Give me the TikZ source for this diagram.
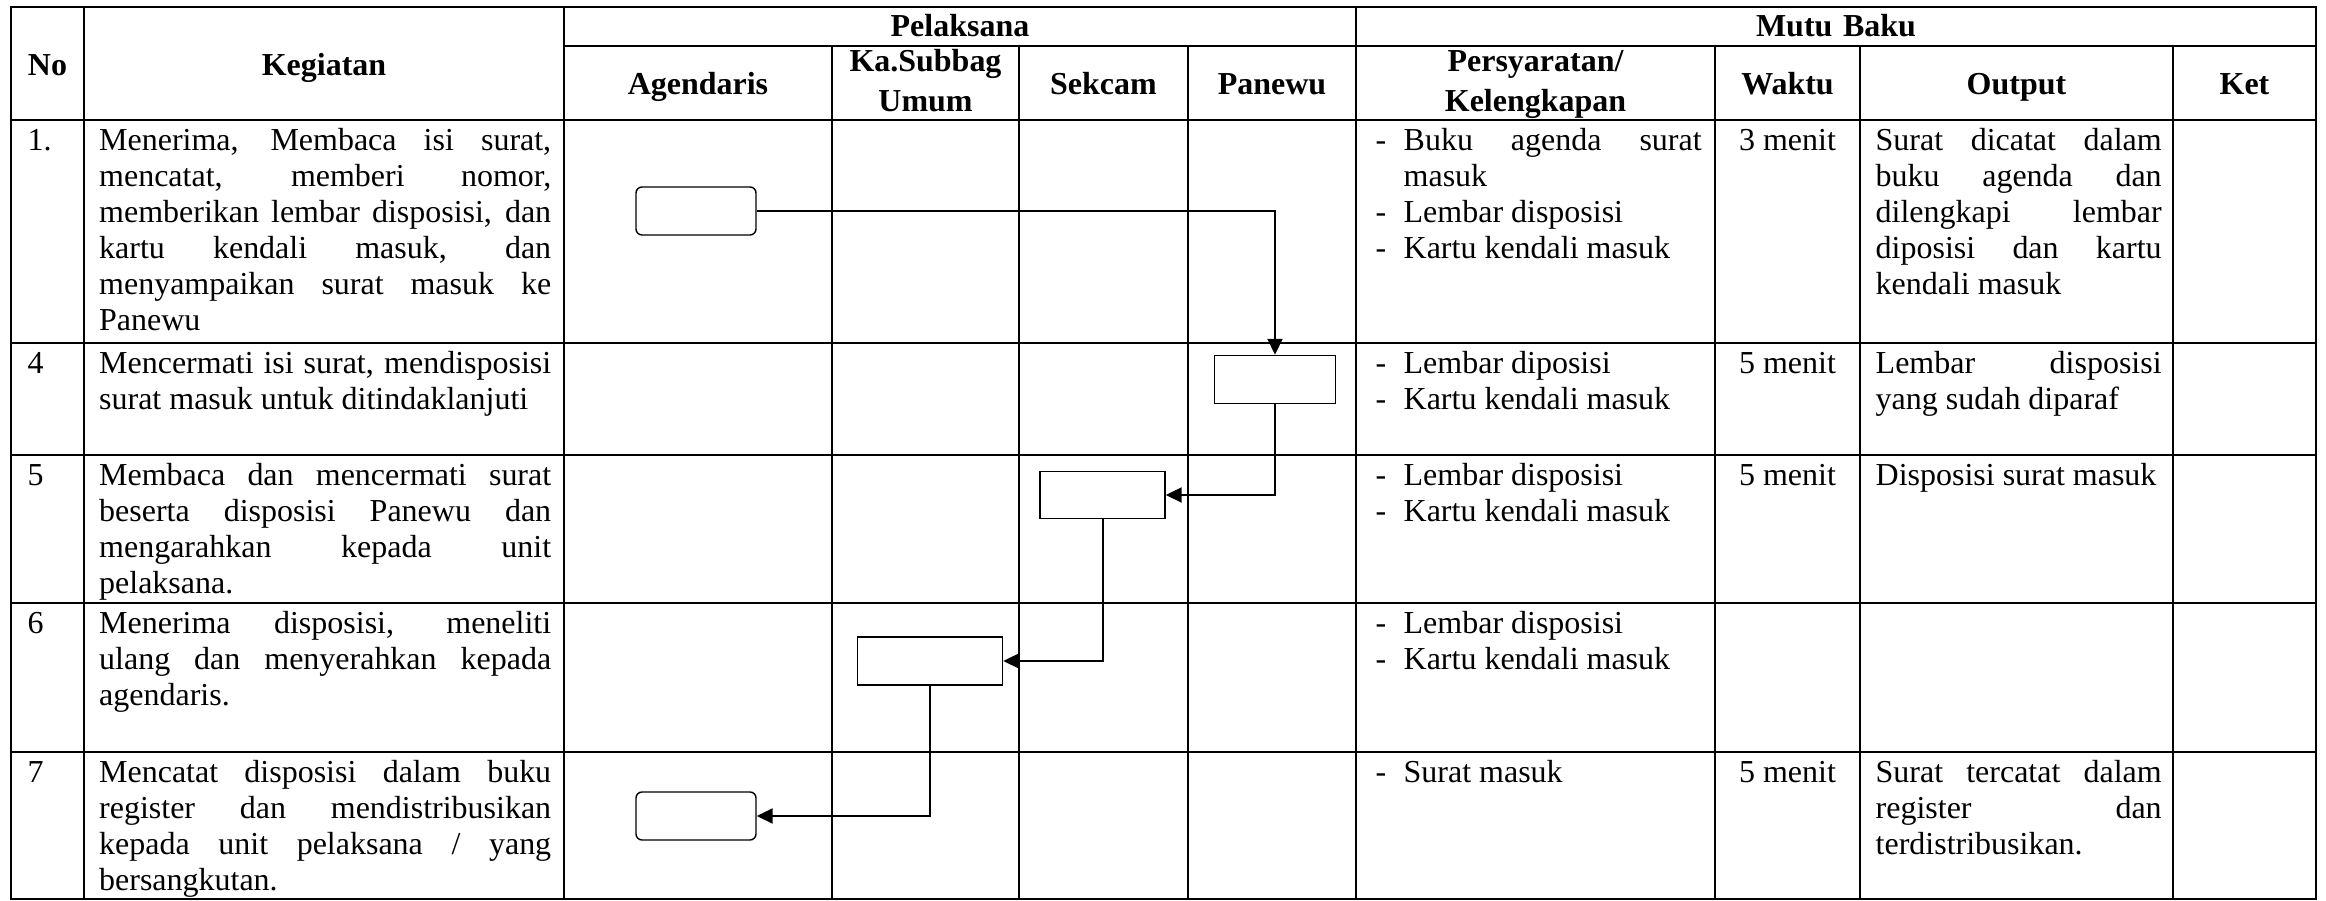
\documentclass[tikz,border=0pt]{standalone}
\usepackage{fontspec}
\setmainfont{Liberation Serif}
\usetikzlibrary{arrows.meta,calc,positioning}

\newcommand{\butir}[1]{\hangindent=2.8mm\hangafter=1\makebox[2.8mm][l]{-}#1\par}

\begin{document}
\hyphenpenalty=10000
\begin{tikzpicture}[x=0.1mm, y=-0.1mm, font=\fontsize{9.1pt}{10.24pt}\selectfont]
	\tikzstyle{every node} = [inner sep = 0pt]
	\tikzstyle{garis} = [line width = 0.25mm]
	\tikzstyle{kepala} = [font = \fontsize{9.1pt}{10.24pt}\selectfont\bfseries, anchor = base, text width = 30mm, align = center]
	\tikzstyle{nomor} = [anchor = base west]
	\tikzstyle{isi} = [anchor = base west, text width = 45.2mm, align = justify]
	\tikzstyle{syarat} = [anchor = base west, text width = 32.6mm, align = justify]
	\tikzstyle{waktu} = [anchor = base]
	\tikzstyle{hasil} = [anchor = base west, text width = 28.6mm, align = justify]
	\tikzstyle{kotak} = [draw = black, line width = 0.14mm, minimum height = 4.8mm]
	\tikzstyle{panah} = [line width = 0.2mm, -{Triangle[length = 1.6mm, width = 1.5mm]}]

	\useasboundingbox (0,0) rectangle (2326,901);

	% garis tabel
	\draw[garis] (11,7) rectangle (2316,899);
	\draw[garis] (564,46) -- (2316,46);
	\draw[garis] (11,120) -- (2316,120);
	\foreach \y in {343,455,603,752}
		\draw[garis] (11,\y) -- (2316,\y);
	\foreach \x in {84,564,1356}
		\draw[garis] (\x,7) -- (\x,899);
	\foreach \x in {832,1019,1188,1715,1860,2173}
		\draw[garis] (\x,46) -- (\x,899);

	% kepala tabel
\node[kepala] (hNo) at (47.5,76) {No};
\node[kepala] (hKeg) at (324,76) {Kegiatan};
\node[kepala] (hPel) at (960,37) {Pelaksana};
\node[kepala] (hMutu) at (1836,37) {Mutu Baku};
\node[kepala] (hAg) at (698,95) {Agendaris};
\node[kepala] (hKa) at (925.5,72) {Ka.Subbag\\[0.4mm]Umum};
\node[kepala] (hSek) at (1103.5,95) {Sekcam};
\node[kepala] (hPan) at (1272,95) {Panewu};
\node[kepala] (hSya) at (1535.5,72) {Persyaratan/\\[0.4mm]Kelengkapan};
\node[kepala] (hWak) at (1787.5,95) {Waktu};
\node[kepala] (hOut) at (2016.5,95) {Output};
\node[kepala] (hKet) at (2244.5,95) {Ket};

	% baris 1
\node[nomor] (n1) at (27,151) {1.};
\node[isi] (g1) at (98.5,151) {Menerima, Membaca isi surat,\linebreak mencatat, memberi nomor,\linebreak memberikan lembar disposisi, dan\linebreak kartu kendali masuk, dan\linebreak menyampaikan surat masuk ke\linebreak Panewu};
\node[syarat] (r1) at (1375,151) {\butir{Buku agenda surat\linebreak masuk}\butir{Lembar disposisi}\butir{Kartu kendali masuk}};
\node[waktu] (w1) at (1787.5,151) {3 menit};
\node[hasil] (o1) at (1875,151) {Surat dicatat dalam\linebreak buku agenda dan\linebreak dilengkapi lembar\linebreak diposisi dan kartu\linebreak kendali masuk};

	% baris 4
\node[nomor] (n4) at (27,374) {4};
\node[isi] (g4) at (98.5,374) {Mencermati isi surat, mendisposisi\linebreak surat masuk untuk ditindaklanjuti};
\node[syarat] (r4) at (1375,374) {\butir{Lembar diposisi}\butir{Kartu kendali masuk}};
\node[waktu] (w4) at (1787.5,374) {5 menit};
\node[hasil] (o4) at (1875,374) {Lembar disposisi\linebreak yang sudah diparaf};

	% baris 5
\node[nomor] (n5) at (27,486) {5};
\node[isi] (g5) at (98.5,486) {Membaca dan mencermati surat\linebreak beserta disposisi Panewu dan\linebreak mengarahkan kepada unit\linebreak pelaksana.};
\node[syarat] (r5) at (1375,486) {\butir{Lembar disposisi}\butir{Kartu kendali masuk}};
\node[waktu] (w5) at (1787.5,486) {5 menit};
\node[hasil] (o5) at (1875,486) {Disposisi surat masuk};

	% baris 6
\node[nomor] (n6) at (27,634) {6};
\node[isi] (g6) at (98.5,634) {Menerima disposisi, meneliti\linebreak ulang dan menyerahkan kepada\linebreak agendaris.};
\node[syarat] (r6) at (1375,634) {\butir{Lembar disposisi}\butir{Kartu kendali masuk}};

	% baris 7
\node[nomor] (n7) at (27,783) {7};
\node[isi] (g7) at (98.5,783) {Mencatat disposisi dalam buku\linebreak register dan mendistribusikan\linebreak kepada unit pelaksana / yang\linebreak bersangkutan.};
\node[syarat] (r7) at (1375,783) {\butir{Surat masuk}};
\node[waktu] (w7) at (1787.5,783) {5 menit};
\node[hasil] (o7) at (1875,783) {Surat tercatat dalam\linebreak register dan\linebreak terdistribusikan.};

	% alur
\node[kotak, rounded corners = 0.6mm, minimum width = 12mm] (a1) at (696,211) {};
\node[kotak, minimum width = 12.1mm] (p4) at (1275,379.5) {};
\node[kotak, minimum width = 12.5mm, minimum height = 4.7mm] (s5) at (1102.5,495) {};
\node[kotak, minimum width = 14.5mm] (k6) at (930,661) {};
\node[kotak, rounded corners = 0.6mm, minimum width = 12mm] (a7) at (696,816) {};

	\path[draw, panah] (a1.east) -| (p4.north);
	\path[draw, panah] (p4.south) |- (s5.east);
	\path[draw, panah] (s5.south) |- (k6.east);
	\path[draw, panah] (k6.south) |- (a7.east);
\end{tikzpicture}
\end{document}
